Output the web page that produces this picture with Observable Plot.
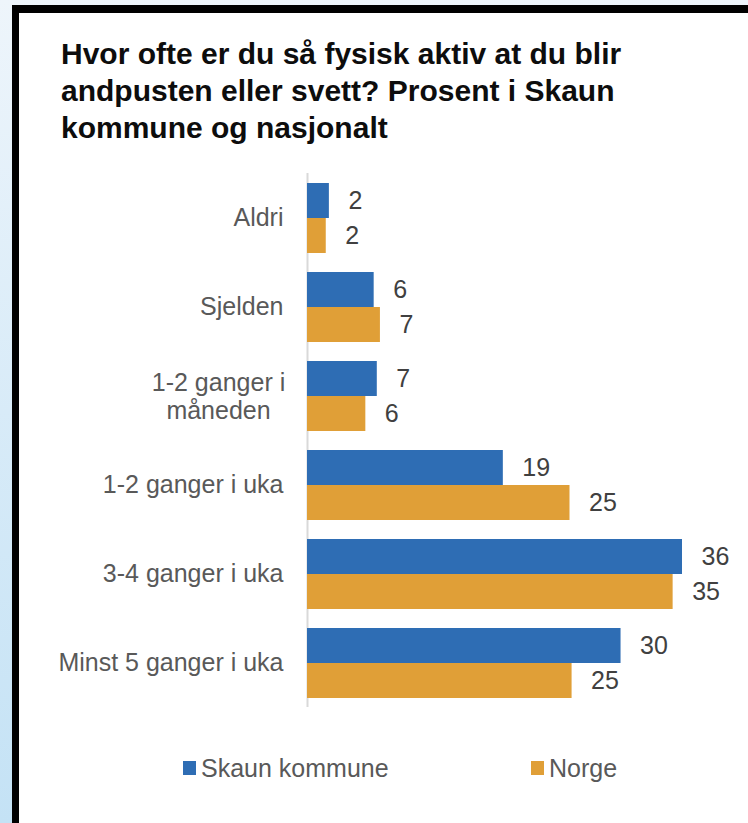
<!DOCTYPE html>
<html>
<head>
<meta charset="utf-8">
<script src="https://cdn.jsdelivr.net/npm/d3@7"></script>
<script src="https://cdn.jsdelivr.net/npm/@observablehq/plot@0.6"></script>
<style>
  html, body { margin: 0; padding: 0; }
  body {
    width: 748px; height: 823px; overflow: hidden; position: relative;
    background: linear-gradient(to bottom, #eef5fb 0%, #d8ebf8 50%, #c4e2f5 100%);
    font-family: "Liberation Sans", Arial, sans-serif;
  }
  #panel {
    position: absolute; left: 12px; top: 5px; width: 760px; height: 840px;
    background: #fff; border-left: 7px solid #000; border-top: 8px solid #000;
  }
  #title {
    position: absolute; left: 61px; top: 35px; width: 680px;
    font-size: 30px; line-height: 37px; font-weight: bold; color: #0d0d0d; white-space: nowrap;
  }
  #chart { position: absolute; left: 0; top: 150px; }
  #legend { position: absolute; left: 0; top: 750px; width: 748px; height: 36px; }
  .item { position: absolute; top: 0; font-size: 25px; line-height: 36px; color: #595959; }
  .sw { position: absolute; width: 13px; height: 14px; top: 11px; }
  .lbl { position: absolute; white-space: nowrap; }
</style>
</head>
<body>
<div id="panel"></div>
<div id="title">Hvor ofte er du så fysisk aktiv at du blir<br>andpusten eller svett? Prosent i Skaun<br>kommune og nasjonalt</div>
<div id="chart"></div>
<div id="legend"></div>
<script>
const categories = ["Aldri", "Sjelden", "1-2 ganger i måneden", "1-2 ganger i uka", "3-4 ganger i uka", "Minst 5 ganger i uka"];
const series = ["Skaun kommune", "Norge"];
const skaun = [2.1, 6.4, 6.7, 18.8, 36.0, 30.1];
const norge = [1.8, 7.0, 5.6, 25.2, 35.1, 25.4];
const colors = ["#2e6db4", "#e09f37"];
const wrapped = { "1-2 ganger i måneden": "1-2 ganger i\nmåneden" };

const values = [skaun, norge];
const data = categories.flatMap((c, i) => series.map((s, j) => ({ category: c, series: s, value: values[j][i] })));

const plot = Plot.plot({
  width: 748,
  height: 570,
  marginLeft: 307,
  marginRight: 66,
  marginTop: 23,
  marginBottom: 13,
  style: { fontFamily: "'Liberation Sans', Arial, sans-serif", background: "transparent", overflow: "visible" },
  x: { domain: [0, d3.max(data, d => d.value)], axis: null },
  y: { domain: series, padding: 0, axis: null },
  fy: { domain: categories, paddingInner: 0.2, paddingOuter: 0.1, label: null },
  color: { domain: series, range: colors },
  marks: [
    Plot.ruleX([0], { stroke: "#d9d9d9", strokeWidth: 2, insetTop: -9, insetBottom: -9 }),
    Plot.barX(data, { fy: "category", y: "series", x: "value", fill: "series" }),
    Plot.text(data, {
      fy: "category", y: "series", x: "value",
      text: d => String(Math.round(d.value)),
      textAnchor: "start", dx: 19, fontSize: 25, fill: "#404040"
    }),
    Plot.axisFy({
      anchor: "left", label: null,
      ticks: categories.filter(c => !wrapped[c]),
      tickSize: 0, tickPadding: 24, fontSize: 25, fill: "#595959"
    }),
    Plot.axisFy({
      anchor: "left", label: null,
      ticks: categories.filter(c => wrapped[c]),
      tickFormat: c => wrapped[c],
      tickSize: 0, tickPadding: 89, textAnchor: "middle", lineHeight: 1.13,
      fontSize: 25, fill: "#595959"
    })
  ]
});
document.getElementById("chart").appendChild(plot);

// legend
const legend = document.getElementById("legend");
const legendX = [183, 531];
series.forEach((s, i) => {
  const item = document.createElement("div");
  item.className = "item";
  item.style.left = legendX[i] + "px";
  const sw = document.createElement("div");
  sw.className = "sw";
  sw.style.left = "0px";
  sw.style.background = colors[i];
  const lbl = document.createElement("div");
  lbl.className = "lbl";
  lbl.style.left = "18px";
  lbl.textContent = s;
  item.appendChild(sw);
  item.appendChild(lbl);
  legend.appendChild(item);
});
</script>
</body>
</html>
